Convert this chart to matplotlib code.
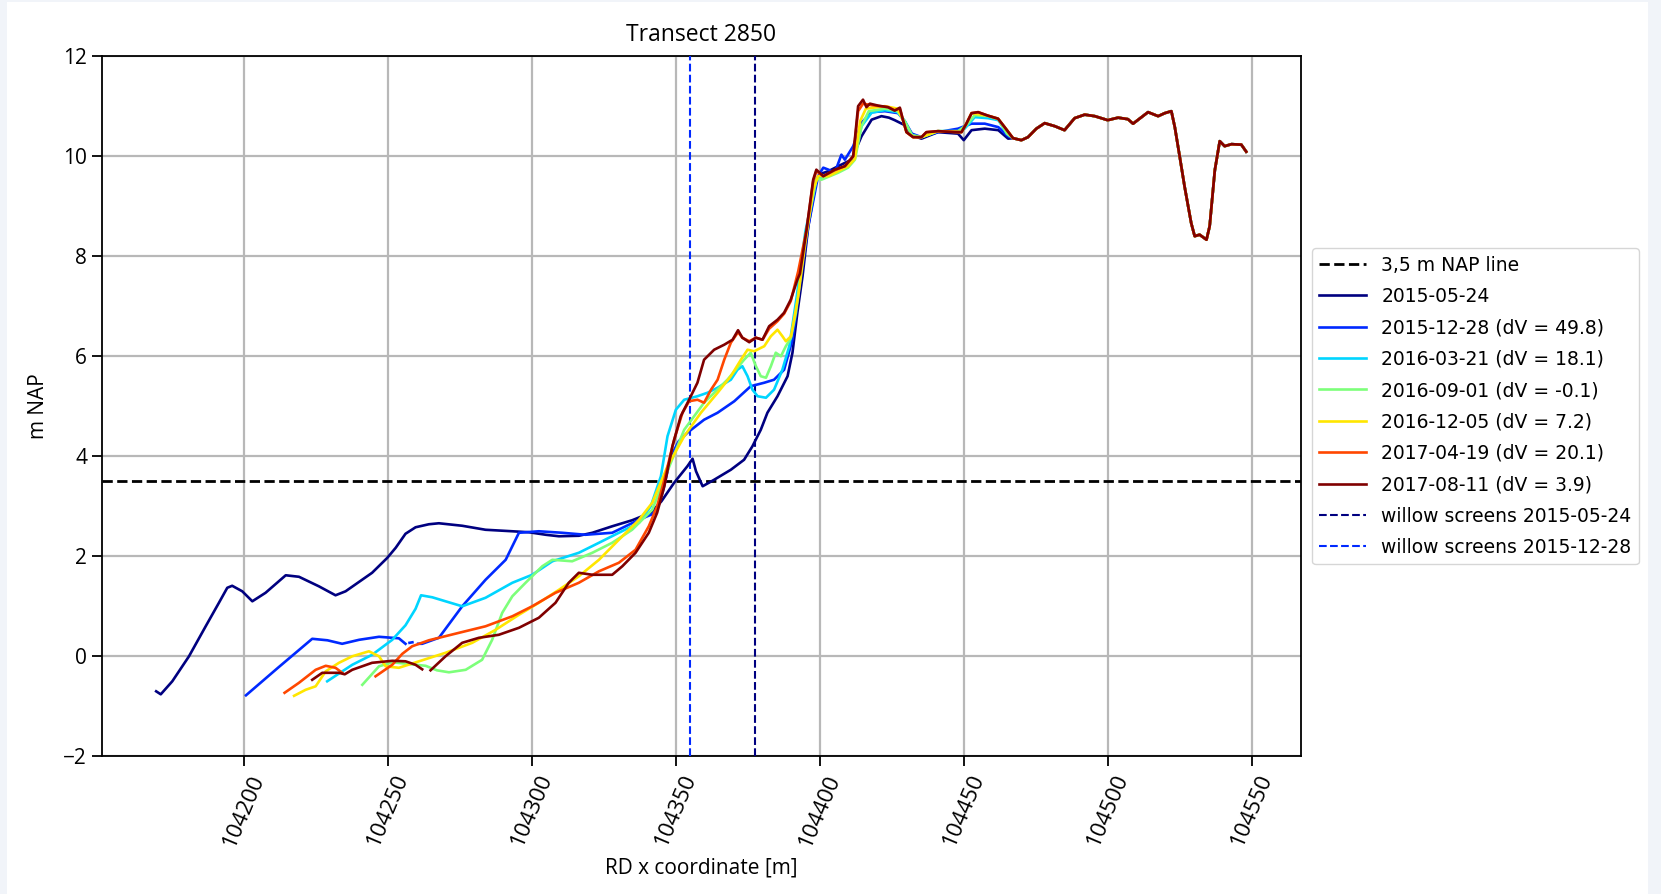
import numpy as np
import matplotlib
matplotlib.use("Agg")
import matplotlib.pyplot as plt
from matplotlib.patches import Rectangle
from matplotlib.ticker import MultipleLocator

nan = np.nan

# survey dates and volume changes
dates = ["2015-05-24", "2015-12-28", "2016-03-21", "2016-09-01",
         "2016-12-05", "2017-04-19", "2017-08-11"]
dv = [None, 49.8, 18.1, -0.1, 7.2, 20.1, 3.9]

nap_level = 3.5
willow_x = [104377.5, 104355.0]   # 2015-05-24, 2015-12-28

# profile part shared by all surveys (dune top, seaward end)
tail_x = [104467.1, 104470.0, 104472.3, 104475.2, 104478.1, 104481.6, 104485.0,
          104488.5, 104492.0, 104495.5, 104500.0, 104503.6, 104507.0, 104508.8,
          104514.0, 104517.5, 104519.8, 104522.1, 104523.3, 104525.0, 104526.7,
          104529.0, 104530.2, 104531.9, 104534.3, 104535.4, 104537.2, 104538.9,
          104540.6, 104543.0, 104546.4, 104548.1]
tail_y = [10.36, 10.32, 10.38, 10.55, 10.66, 10.60, 10.52,
          10.76, 10.83, 10.80, 10.72, 10.77, 10.74, 10.65,
          10.88, 10.80, 10.86, 10.90, 10.58, 9.99, 9.39,
          8.66, 8.40, 8.43, 8.33, 8.60, 9.72, 10.30,
          10.20, 10.24, 10.23, 10.09]

x_0524 = [104169.5, 104171.1, 104175.1, 104180.9, 104186.7, 104191.3, 104194.2,
          104195.9, 104199.4, 104202.9, 104207.5, 104214.5, 104219.1, 104226.0,
          104231.8, 104235.3, 104244.5, 104249.8, 104252.7, 104256.1, 104259.6,
          104264.2, 104267.7, 104275.8, 104283.9, 104293.2, 104299.0, 104304.8,
          104309.4, 104316.3, 104321.0, 104327.9, 104334.8, 104341.3, 104345.0,
          104349.4, 104354.0, 104355.8, 104357.0, 104359.3, 104363.3, 104369.1,
          104373.7, 104376.6, 104379.5, 104381.8, 104385.3, 104388.8, 104390.5,
          104392.2, 104394.0, 104396.0, 104398.8, 104400.5, 104403.0, 104406.4,
          104411.0, 104414.5, 104418.0, 104421.4, 104424.0, 104426.0, 104429.5,
          104431.8, 104435.3, 104441.0, 104448.0, 104450.0, 104452.7, 104457.3,
          104462.0, 104465.4]
y_0524 = [-0.70, -0.76, -0.50, 0.00, 0.60, 1.07, 1.37,
          1.41, 1.30, 1.10, 1.27, 1.62, 1.59, 1.40,
          1.22, 1.30, 1.67, 1.97, 2.17, 2.45, 2.58,
          2.64, 2.66, 2.61, 2.53, 2.50, 2.48, 2.43,
          2.40, 2.41, 2.47, 2.60, 2.72, 2.87, 3.10,
          3.47, 3.80, 3.95, 3.70, 3.40, 3.53, 3.73,
          3.93, 4.20, 4.53, 4.87, 5.20, 5.60, 6.07,
          6.87, 7.60, 8.60, 9.53, 9.65, 9.70, 9.80,
          9.93, 10.40, 10.73, 10.80, 10.77, 10.72, 10.62,
          10.42, 10.35, 10.48, 10.45, 10.32, 10.52, 10.55,
          10.52, 10.35]

x_1228 = [104200.7, 104212.0, 104223.7, 104229.0, 104234.1, 104240.0, 104246.9,
          104253.8, 104256.1, nan, 104257.5, 104258.5, nan, 104260.5, 104261.9,
          104267.7, 104275.8, 104283.9, 104290.9, 104293.2, 104295.5, 104302.4,
          104310.5, 104318.6, 104327.9, 104337.2, 104343.0, 104345.5, 104348.3,
          104351.0, 104354.0, 104359.8, 104364.5, 104370.3, 104376.0, 104380.7,
          104384.1, 104387.6, 104390.5, 104393.0, 104396.0, 104399.4, 104401.2,
          104403.0, 104405.2, 104407.5, 104408.7, 104411.6, 104414.5, 104418.0,
          104422.6, 104427.2, 104429.5, 104432.0, 104435.3, 104441.0, 104448.0,
          104450.3, 104452.7, 104457.3, 104462.0, 104465.4]
y_1228 = [-0.78, -0.22, 0.35, 0.32, 0.25, 0.33, 0.39,
          0.36, 0.25, nan, 0.27, 0.28, nan, 0.25, 0.25,
          0.37, 1.00, 1.53, 1.93, 2.20, 2.47, 2.50,
          2.47, 2.43, 2.47, 2.73, 2.87, 3.30, 4.00,
          4.30, 4.47, 4.73, 4.87, 5.10, 5.40, 5.47,
          5.53, 5.73, 6.33, 7.40, 8.60, 9.60, 9.77,
          9.73, 9.67, 10.03, 9.93, 10.20, 10.67, 10.88,
          10.90, 10.86, 10.70, 10.45, 10.38, 10.48, 10.55,
          10.60, 10.65, 10.65, 10.58, 10.40]

x_0321 = [104228.9, 104237.6, 104244.5, 104251.5, 104256.1, 104259.6, 104261.5,
          104265.4, 104270.0, 104275.8, 104283.9, 104293.2, 104300.1, 104307.1,
          104316.3, 104323.3, 104330.2, 104337.2, 104341.3, 104344.8, 104347.1,
          104350.0, 104352.9, 104357.5, 104361.0, 104364.5, 104369.1, 104371.4,
          104373.1, 104374.9, 104376.6, 104378.4, 104381.3, 104384.1, 104387.0,
          104389.4, 104392.0, 104395.0, 104398.8, 104403.0, 104408.7, 104411.6,
          104414.5, 104418.0, 104422.6, 104427.0, 104429.5, 104432.0, 104435.3,
          104441.0, 104448.0, 104450.3, 104453.8, 104458.4, 104462.0, 104465.0]
y_0321 = [-0.50, -0.17, 0.03, 0.33, 0.62, 0.95, 1.22,
          1.18, 1.10, 1.00, 1.17, 1.47, 1.63, 1.90,
          2.07, 2.27, 2.47, 2.67, 3.00, 3.60, 4.40,
          4.93, 5.13, 5.20, 5.27, 5.37, 5.53, 5.73,
          5.80, 5.60, 5.33, 5.20, 5.17, 5.33, 5.73,
          6.20, 7.20, 8.50, 9.53, 9.63, 9.77, 10.00,
          10.60, 10.87, 10.92, 10.88, 10.70, 10.42, 10.38,
          10.50, 10.50, 10.55, 10.78, 10.76, 10.72, 10.45]

x_0901 = [104241.1, 104246.9, 104251.5, 104255.0, 104263.1, 104267.0, 104271.2,
          104277.0, 104282.7, 104286.2, 104289.7, 104293.2, 104297.8, 104303.6,
          104307.1, 104314.0, 104321.0, 104327.9, 104334.8, 104341.8, 104346.0,
          104352.9, 104359.8, 104367.9, 104373.7, 104376.0, 104377.8, 104379.5,
          104381.3, 104383.0, 104384.7, 104386.5, 104388.2, 104390.0, 104391.7,
          104395.0, 104398.8, 104400.6, 104406.4, 104409.8, 104412.2, 104414.5,
          104417.0, 104422.6, 104427.0, 104429.5, 104432.0, 104435.3, 104441.0,
          104448.0, 104450.9, 104453.8, 104458.4, 104462.0, 104465.0]
y_0901 = [-0.57, -0.20, -0.12, -0.14, -0.19, -0.28, -0.32,
          -0.27, -0.07, 0.33, 0.87, 1.20, 1.47, 1.80,
          1.93, 1.90, 2.07, 2.27, 2.53, 2.93, 3.55,
          4.53, 5.07, 5.53, 5.93, 6.07, 5.80, 5.60,
          5.57, 5.80, 6.07, 6.00, 6.20, 6.37, 6.87,
          8.40, 9.55, 9.53, 9.67, 9.77, 9.93, 10.60,
          10.90, 10.95, 10.90, 10.70, 10.42, 10.38, 10.50,
          10.50, 10.62, 10.82, 10.80, 10.74, 10.45]

x_1205 = [104217.4, 104221.4, 104224.9, 104228.4, 104233.0, 104237.6, 104243.4,
          104246.9, 104249.2, 104253.8, 104260.8, 104270.0, 104279.3, 104287.4,
          104295.5, 104302.4, 104309.4, 104316.3, 104323.3, 104330.2, 104337.2,
          104341.8, 104347.1, 104352.9, 104358.7, 104364.5, 104369.1, 104372.6,
          104374.9, 104377.2, 104380.7, 104383.0, 104385.3, 104387.0, 104388.2,
          104390.0, 104392.5, 104394.8, 104397.7, 104399.4, 104403.0, 104406.4,
          104409.8, 104412.2, 104414.0, 104416.0, 104422.6, 104427.0, 104428.9,
          104430.1, 104432.4, 104435.3, 104441.0, 104449.2, 104450.9, 104452.7,
          104458.4, 104461.9, 104464.2]
y_1205 = [-0.79, -0.67, -0.60, -0.30, -0.13, 0.00, 0.10,
          0.00, -0.20, -0.23, -0.10, 0.07, 0.27, 0.53,
          0.83, 1.07, 1.33, 1.60, 1.93, 2.33, 2.73,
          3.07, 3.80, 4.40, 4.87, 5.27, 5.60, 5.93,
          6.13, 6.10, 6.20, 6.40, 6.53, 6.40, 6.30,
          6.40, 7.20, 8.20, 9.33, 9.60, 9.60, 9.70,
          9.80, 9.95, 10.70, 10.95, 11.00, 10.95, 10.72,
          10.48, 10.38, 10.38, 10.50, 10.48, 10.65, 10.86,
          10.81, 10.75, 10.58]

x_0419 = [104214.1, 104219.1, 104222.0, 104224.9, 104228.4, 104231.8, 104234.1,
          nan, 104245.7, 104251.5, 104255.0, 104258.4, 104264.2, 104274.7,
          104283.9, 104293.2, 104300.1, 104308.2, 104316.3, 104323.3, 104330.2,
          104336.0, 104340.6, 104343.5, 104346.0, 104349.4, 104352.3, 104354.6,
          104357.5, 104359.8, 104362.2, 104364.5, 104366.8, 104369.1, 104371.6,
          104373.1, 104375.5, 104377.8, 104380.1, 104382.4, 104385.3, 104387.6,
          104389.9, 104392.5, 104395.4, 104397.7, 104398.8, 104401.2, 104405.2,
          104408.7, 104411.6, 104413.3, 104415.0, 104418.0, 104423.7, 104426.0,
          104427.8, 104428.9, 104430.1, 104432.4, 104435.3, 104437.0, 104441.0,
          104449.2, 104450.9, 104452.7, 104455.0, 104458.4, 104461.9, 104464.2]
y_0419 = [-0.73, -0.53, -0.40, -0.27, -0.19, -0.23, -0.33,
          nan, -0.40, -0.17, 0.05, 0.20, 0.32, 0.47,
          0.60, 0.80, 1.00, 1.27, 1.47, 1.70, 1.87,
          2.13, 2.60, 3.00, 3.53, 4.33, 4.87, 5.10,
          5.13, 5.07, 5.33, 5.53, 5.93, 6.27, 6.48,
          6.37, 6.30, 6.37, 6.33, 6.55, 6.70, 6.85,
          7.10, 7.70, 8.53, 9.50, 9.70, 9.60, 9.72,
          9.80, 10.00, 10.90, 11.05, 11.02, 10.98, 10.92,
          10.95, 10.72, 10.48, 10.38, 10.38, 10.48, 10.50,
          10.48, 10.65, 10.86, 10.88, 10.81, 10.75, 10.58]

x_0811 = [104223.7, 104227.2, 104233.0, 104235.0, 104237.6, 104244.5, 104251.5,
          104256.1, 104259.6, 104261.9, nan, 104264.8, 104270.0, 104275.8,
          104281.6, 104288.5, 104295.5, 104302.4, 104308.2, 104312.8, 104316.3,
          104321.0, 104327.9, 104331.4, 104336.0, 104340.6, 104343.5, 104346.0,
          104348.8, 104351.7, 104354.6, 104357.5, 104359.8, 104363.3, 104366.8,
          104369.7, 104371.6, 104373.1, 104375.5, 104377.8, 104380.1, 104382.4,
          104385.3, 104387.6, 104389.9, 104392.2, 104393.1, 104395.4, 104397.7,
          104398.8, 104401.2, 104405.2, 104408.7, 104411.6, 104413.3, 104415.0,
          104416.2, 104417.4, 104420.3, 104423.7, 104426.0, 104427.8, 104428.9,
          104430.1, 104432.4, 104435.3, 104437.0, 104441.0, 104446.9, 104449.2,
          104450.9, 104452.7, 104455.0, 104458.4, 104461.9, 104464.2]
y_0811 = [-0.47, -0.33, -0.33, -0.36, -0.27, -0.13, -0.09,
          -0.10, -0.17, -0.26, nan, -0.28, 0.00, 0.27,
          0.37, 0.43, 0.57, 0.77, 1.07, 1.47, 1.67,
          1.63, 1.63, 1.80, 2.07, 2.47, 2.87, 3.40,
          4.20, 4.80, 5.13, 5.47, 5.93, 6.13, 6.23,
          6.33, 6.52, 6.37, 6.28, 6.37, 6.33, 6.60,
          6.73, 6.87, 7.13, 7.53, 7.65, 8.53, 9.53,
          9.73, 9.60, 9.73, 9.80, 10.00, 11.00, 11.13,
          10.98, 11.05, 11.01, 10.98, 10.91, 10.97, 10.72,
          10.48, 10.38, 10.38, 10.48, 10.50, 10.48, 10.48,
          10.65, 10.86, 10.88, 10.81, 10.75, 10.58]

profiles_x = [x_0524, x_1228, x_0321, x_0901, x_1205, x_0419, x_0811]
profiles_y = [y_0524, y_1228, y_0321, y_0901, y_1205, y_0419, y_0811]

colors = plt.cm.jet(np.linspace(0, 1, len(dates)))
label_font = "Open Sans"

fig = plt.figure(figsize=(16.61, 8.94), dpi=100, facecolor="#f1f4f9")
fig.patches.append(Rectangle((7 / 1661, 0), 1 - 20 / 1661, 1 - 2 / 894,
                             transform=fig.transFigure, facecolor="white",
                             edgecolor="none", zorder=-10))
ax = fig.add_axes([0.0612, 0.154, 0.7219, 0.7832])

ax.axhline(nap_level, color="black", linestyle="--", linewidth=2,
           label="3,5 m NAP line", zorder=3)

for i in range(len(dates)):
    xs = list(profiles_x[i]) + tail_x
    ys = list(profiles_y[i]) + tail_y
    if dv[i] is None:
        lab = dates[i]
    else:
        lab = "%s (dV = %.1f)" % (dates[i], dv[i])
    ax.plot(xs, ys, color=colors[i], linewidth=1.9, label=lab, zorder=4)

ax.axvline(willow_x[0], color=colors[0], linestyle="--", linewidth=1.5,
           label="willow screens " + dates[0], zorder=3)
ax.axvline(willow_x[1], color=colors[1], linestyle="--", linewidth=1.5,
           label="willow screens " + dates[1], zorder=3)

ax.set_ylim(-2, 12)
ax.xaxis.set_major_locator(MultipleLocator(50))
ax.ticklabel_format(axis="x", useOffset=False, style="plain")
ax.grid(True, color="#b8b8b8", linewidth=1.6, zorder=0)
ax.set_axisbelow(True)
for s in ax.spines.values():
    s.set_linewidth(1.3)
ax.tick_params(length=7, width=1.3, labelsize=15)
ax.tick_params(axis="x", labelsize=16)
for t in ax.get_xticklabels():
    t.set_rotation(67)
    t.set_fontfamily(label_font)
for t in ax.get_yticklabels():
    t.set_fontfamily(label_font)

ax.set_title("Transect 2850", fontsize=16.5, fontfamily=label_font, pad=11)
ax.set_xlabel("RD x coordinate [m]", fontsize=15, fontfamily=label_font, labelpad=6)
ax.set_ylabel("m NAP", fontsize=15, fontfamily=label_font, labelpad=10)

ax.legend(loc="center left", bbox_to_anchor=(1.0, 0.5), fontsize=13.5,
          handlelength=2.5, handletextpad=0.8, borderaxespad=0.6,
          labelspacing=0.66)

fig.savefig("out.png", dpi=100, facecolor=fig.get_facecolor())
